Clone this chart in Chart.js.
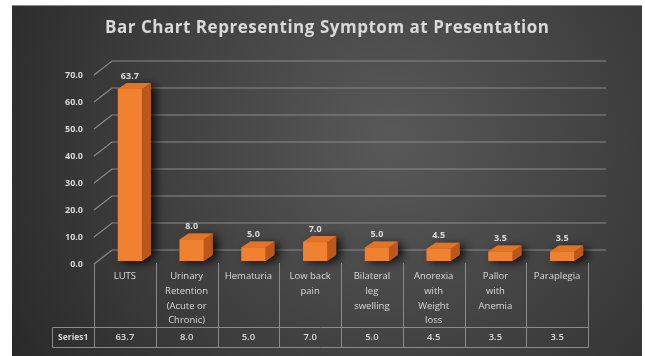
<!DOCTYPE html>
<html>
<head>
<meta charset="utf-8">
<script src="https://cdn.jsdelivr.net/npm/chart.js@4"></script>
<style>
  html, body { margin: 0; padding: 0; background: #fff; }
  canvas { display: block; }
</style>
</head>
<body>
<canvas id="grafica" width="645" height="356"></canvas>
<script>
const categorias = [
  "LUTS",
  ["Urinary", "Retention", "(Acute or", "Chronic)"],
  "Hematuria",
  ["Low back", "pain"],
  ["Bilateral", "leg", "swelling"],
  ["Anorexia", "with", "Weight", "loss"],
  ["Pallor", "with", "Anemia"],
  "Paraplegia"
];
const serie1 = [63.7, 8.0, 5.0, 7.0, 5.0, 4.5, 3.5, 3.5];
const nombreSerie = "Series1";
const ticksY = [0, 10, 20, 30, 40, 50, 60, 70];
const titulo = "Bar Chart Representing Symptom at Presentation";

const colorFrente = "#ef8130";
const colorTapa = "#e27428";
const colorLado = "#b9581a";
const colorTexto = "#d9d9d9";
const colorLinea = "#8a8a8a";

// profundidad de las barras y de la pared del fondo
const barDX = 9, barDY = 6, shiftX = 5;
const wallDX = 18, wallDY = 11;

const fondo = {
  id: "fondo",
  beforeDraw(chart) {
    const ctx = chart.ctx;
    ctx.save();
    ctx.fillStyle = "#ffffff";
    ctx.fillRect(0, 0, chart.width, chart.height);
    const g = ctx.createRadialGradient(390, 140, 10, 390, 140, 430);
    g.addColorStop(0, "#585858");
    g.addColorStop(1, "#2a2a2a");
    ctx.fillStyle = g;
    ctx.fillRect(12, 5, 630, 351);
    ctx.strokeStyle = "#8a8a8a";
    ctx.lineWidth = 1;
    ctx.beginPath();
    ctx.moveTo(12, 5.5);
    ctx.lineTo(642, 5.5);
    ctx.stroke();

    // titulo con espaciado entre letras
    ctx.font = "bold 17px 'Open Sans'";
    const ancho = ctx.measureText(titulo).width;
    const espacio = (444 - ancho) / (titulo.length - 1);
    ctx.letterSpacing = espacio + "px";
    ctx.fillStyle = colorTexto;
    ctx.textAlign = "left";
    ctx.textBaseline = "alphabetic";
    ctx.fillText(titulo, 105, 33);
    ctx.restore();
  }
};

const paredFondo = {
  id: "paredFondo",
  beforeDatasetsDraw(chart) {
    const { ctx, chartArea, scales } = chart;
    ctx.save();
    ctx.strokeStyle = colorLinea;
    ctx.lineWidth = 1.2;
    ticksY.forEach((v) => {
      const y = scales.y.getPixelForValue(v);
      ctx.beginPath();
      ctx.moveTo(chartArea.left, y + 3);
      ctx.lineTo(chartArea.left + wallDX, y - wallDY);
      ctx.lineTo(chartArea.right + wallDX, y - wallDY);
      ctx.stroke();
    });
    ctx.restore();
  }
};

const barras3D = {
  id: "barras3D",
  beforeDatasetDraw(chart, args) {
    const ctx = chart.ctx;
    const meta = chart.getDatasetMeta(args.index);
    ctx.save();
    ctx.translate(shiftX, 0);
    meta.data.forEach((el) => {
      const l = el.x - el.width / 2, r = el.x + el.width / 2;
      const t = el.y, b = el.base;
      // sombra
      ctx.save();
      ctx.shadowColor = "rgba(0,0,0,0.75)";
      ctx.shadowBlur = 9;
      ctx.shadowOffsetX = 5;
      ctx.shadowOffsetY = 2;
      ctx.fillStyle = colorLado;
      ctx.beginPath();
      ctx.moveTo(l, b);
      ctx.lineTo(l, t);
      ctx.lineTo(l + barDX, t - barDY);
      ctx.lineTo(r + barDX, t - barDY);
      ctx.lineTo(r + barDX, b - barDY);
      ctx.lineTo(r, b);
      ctx.closePath();
      ctx.fill();
      ctx.restore();
      // tapa
      ctx.fillStyle = colorTapa;
      ctx.beginPath();
      ctx.moveTo(l, t);
      ctx.lineTo(r, t);
      ctx.lineTo(r + barDX, t - barDY);
      ctx.lineTo(l + barDX, t - barDY);
      ctx.closePath();
      ctx.fill();
      // lado
      ctx.fillStyle = colorLado;
      ctx.beginPath();
      ctx.moveTo(r, t);
      ctx.lineTo(r + barDX, t - barDY);
      ctx.lineTo(r + barDX, b - barDY);
      ctx.lineTo(r, b);
      ctx.closePath();
      ctx.fill();
    });
  },
  afterDatasetDraw(chart) {
    chart.ctx.restore();
  },
  afterDatasetsDraw(chart) {
    const ctx = chart.ctx;
    const meta = chart.getDatasetMeta(0);
    ctx.save();
    ctx.fillStyle = colorTexto;
    ctx.font = "bold 9px 'Open Sans'";
    ctx.textAlign = "center";
    ctx.textBaseline = "middle";
    meta.data.forEach((el, i) => {
      ctx.fillText(serie1[i].toFixed(1), el.x + shiftX, el.y - 13);
    });
    ctx.restore();
  }
};

const tablaDatos = {
  id: "tablaDatos",
  afterDraw(chart) {
    const { ctx, chartArea, scales } = chart;
    const n = categorias.length;
    const w = (chartArea.right - chartArea.left) / n;
    const top = chartArea.bottom + 2;
    const filaTop = 327.5, filaBottom = 347.5, izq = 52.5;
    ctx.save();
    ctx.strokeStyle = colorLinea;
    ctx.lineWidth = 1;
    ctx.beginPath();
    for (let i = 0; i <= n; i++) {
      const x = Math.round(scales.x.getPixelForValue(0) - w / 2 + i * w) + 0.5;
      ctx.moveTo(x, top);
      ctx.lineTo(x, filaBottom);
    }
    ctx.moveTo(izq, filaTop);
    ctx.lineTo(izq, filaBottom);
    ctx.moveTo(izq, filaTop);
    ctx.lineTo(chartArea.right + 0.5, filaTop);
    ctx.moveTo(izq, filaBottom);
    ctx.lineTo(chartArea.right + 0.5, filaBottom);
    ctx.stroke();

    ctx.fillStyle = colorTexto;
    ctx.textAlign = "center";
    ctx.textBaseline = "middle";
    ctx.font = "bold 8.5px 'Open Sans'";
    ctx.fillText(nombreSerie, (izq + chartArea.left) / 2, 337.5);
    ctx.font = "600 9.5px 'Open Sans'";
    serie1.forEach((v, i) => {
      ctx.fillText(v.toFixed(1), scales.x.getPixelForValue(i), 337.5);
    });
    ctx.restore();
  }
};

const config = {
  type: "bar",
  data: {
    labels: categorias,
    datasets: [
      {
        label: nombreSerie,
        data: serie1,
        backgroundColor: colorFrente,
        borderWidth: 0,
        barPercentage: 0.39,
        categoryPercentage: 1
      }
    ]
  },
  options: {
    responsive: false,
    animation: false,
    layout: { padding: { top: 72, right: 57, bottom: 0, left: 0 } },
    plugins: {
      legend: { display: false },
      tooltip: { enabled: false },
      title: { display: false }
    },
    scales: {
      y: {
        min: 0,
        max: 70,
        afterFit: (s) => { s.width = 94; },
        ticks: {
          stepSize: 10,
          color: colorTexto,
          padding: 11,
          labelOffset: 3,
          font: { family: "'Open Sans'", size: 9, weight: "bold" },
          callback: (v) => Number(v).toFixed(1)
        },
        grid: { display: false, drawTicks: false },
        border: { display: false }
      },
      x: {
        afterFit: (s) => { s.height = 95; },
        ticks: {
          color: colorTexto,
          padding: 8,
          maxRotation: 0,
          autoSkip: false,
          font: { family: "'Open Sans'", size: 9.5, lineHeight: 1.55 }
        },
        grid: { display: false, drawTicks: false },
        border: { display: false }
      }
    }
  },
  plugins: [fondo, paredFondo, barras3D, tablaDatos]
};

const chartDOM = document.getElementById("grafica");
const myGraph = new Chart(chartDOM, config);
</script>
</body>
</html>
